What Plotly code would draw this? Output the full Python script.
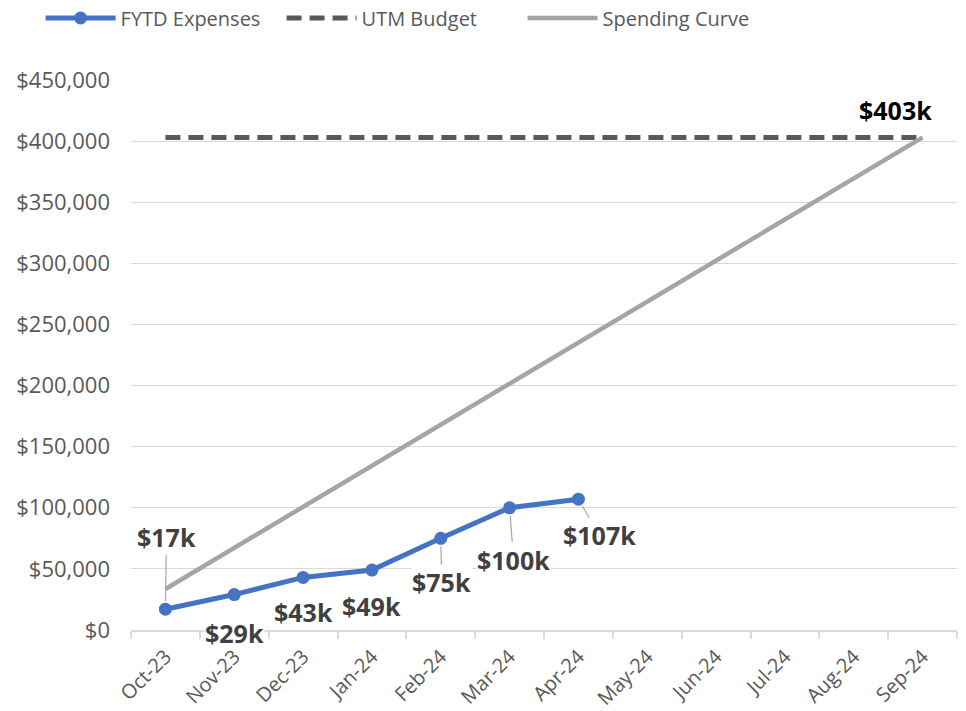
import plotly.graph_objects as go

# Fiscal-year months (Oct-23 .. Sep-24)
months = ["Oct-23", "Nov-23", "Dec-23", "Jan-24", "Feb-24", "Mar-24",
          "Apr-24", "May-24", "Jun-24", "Jul-24", "Aug-24", "Sep-24"]

# Fiscal-year-to-date expenses (reported months only)
fytd_expenses = [17000, 29000, 43000, 49000, 75000, 100000, 107000]
fytd_labels = ["$17k", "$29k", "$43k", "$49k", "$75k", "$100k", "$107k"]

# Annual budget, flat across the year
utm_budget = [403000] * 12
budget_label = "$403k"

# Straight-line spending curve toward the annual budget
spending_curve = [33583, 67167, 100750, 134333, 167917, 201500,
                  235083, 268667, 302250, 335833, 369417, 403000]

BLUE = "#4472C4"
DARK_GRAY = "#595959"
LIGHT_GRAY = "#A5A5A5"
GRID = "#D9D9D9"
LABEL = "#404040"
FONT = "Open Sans"

fig = go.Figure()

fig.add_trace(go.Scatter(
    x=months[:len(fytd_expenses)], y=fytd_expenses, name="FYTD Expenses",
    mode="lines+markers",
    line=dict(color=BLUE, width=5),
    marker=dict(color=BLUE, size=13),
))
fig.add_trace(go.Scatter(
    x=months, y=utm_budget, name="UTM Budget", mode="lines",
    line=dict(color=DARK_GRAY, width=5, dash="15px,8px"),
))
fig.add_trace(go.Scatter(
    x=months, y=spending_curve, name="Spending Curve", mode="lines",
    line=dict(color=LIGHT_GRAY, width=4.5),
))

# Data labels: (pixel offset x, pixel offset y, leader line?)
label_offsets = [
    (1, -72, True),
    (0, 38, False),
    (0, 35, False),
    (0, 36, False),
    (1, 44, True),
    (4, 52, True),
    (21, 36, True),
]
label_font = dict(family=FONT, size=25, color=LABEL, weight="bold")
for m, v, t, (dx, dy, leader) in zip(months, fytd_expenses, fytd_labels, label_offsets):
    if leader:
        fig.add_annotation(
            x=m, y=v, text=t, showarrow=True, arrowhead=0, arrowwidth=1.2,
            arrowcolor="#A6A6A6", ax=dx, ay=dy, standoff=8,
            font=label_font, bgcolor="white", borderpad=0,
        )
    else:
        fig.add_annotation(
            x=m, y=v, text=t, showarrow=False, xshift=dx, yshift=-dy,
            font=label_font, bgcolor="white", borderpad=0,
        )

fig.add_annotation(
    x=months[-1], y=utm_budget[-1], text=budget_label, showarrow=False,
    xshift=-27, yshift=27,
    font=dict(family=FONT, size=25, color="#000000", weight="bold"),
)

fig.update_layout(
    width=966, height=711,
    margin=dict(l=131, r=9, t=80, b=81),
    paper_bgcolor="white", plot_bgcolor="white",
    font=dict(family=FONT, color=DARK_GRAY, size=20),
    showlegend=True,
    legend=dict(
        orientation="h", xref="container", yref="container",
        x=0.042, y=1 - 18 / 711, xanchor="left", yanchor="middle",
        font=dict(family=FONT, size=20, color=DARK_GRAY),
        itemwidth=70, entrywidth=156, traceorder="normal",
        bgcolor="rgba(0,0,0,0)",
    ),
    xaxis=dict(
        type="category", range=[-0.5, len(months) - 0.5], automargin=False,
        showgrid=False, showline=True, linecolor=GRID,
        linewidth=2, ticks="outside", tickson="boundaries", ticklen=7,
        tickcolor=GRID, tickwidth=2, tickangle=-45, ticklabelstandoff=5,
        tickfont=dict(family=FONT, size=20, color=DARK_GRAY),
    ),
    yaxis=dict(
        range=[0, 450000], dtick=50000, tickprefix="$", tickformat=",",
        automargin=False,
        showgrid=True, gridcolor=GRID, gridwidth=1, zeroline=False,
        showline=False, ticks="", ticklabelstandoff=20,
        tickfont=dict(family=FONT, size=22, color=DARK_GRAY),
    ),
)

fig.write_html("out.html")
